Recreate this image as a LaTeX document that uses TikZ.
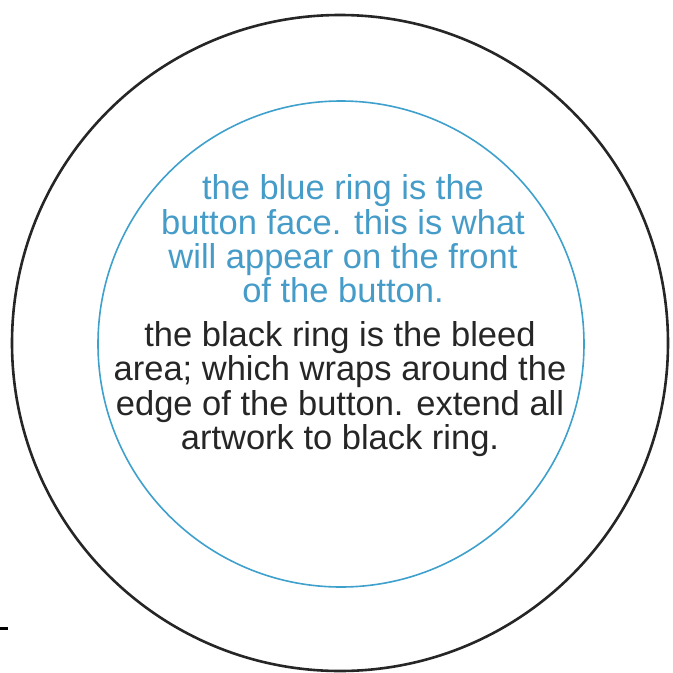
\documentclass[tikz,border=0pt]{standalone}
\usepackage{fontspec}
\setmainfont{Liberation Sans}
\definecolor{faceblue}{RGB}{62,160,204}
\definecolor{textblue}{RGB}{70,156,200}

\begin{document}
\begin{tikzpicture}[x=1pt,y=1pt,
  every node/.style={align=center,inner sep=0pt,font=\fontsize{34.5}{34.3}\selectfont},
  bleedring/.style={draw=black!85,line width=2.6pt},
  facering/.style={draw=faceblue,line width=1.6pt}]
\useasboundingbox (0,0) rectangle (673,-673);
\coordinate (ctr) at (340,-343);
\coordinate (fctr) at (341,-344);
\draw[bleedring] (ctr) circle[radius=328pt];
\draw[facering] (fctr) circle[radius=243pt];
\node[text=textblue] (face) at (343,-239) {the blue ring is the\\button face. this is what\\will appear on the front\\of the button.};
\node[text=black!85] (bleed) at (340,-389) {the black ring is the bleed\\area; which wraps around the\\edge of the button. extend all\\artwork to black ring.};
\coordinate (tickA) at (0,-628); \coordinate (tickB) at (8,-628);
\draw[line width=3pt] (tickA) -- (tickB);
\end{tikzpicture}
\end{document}
